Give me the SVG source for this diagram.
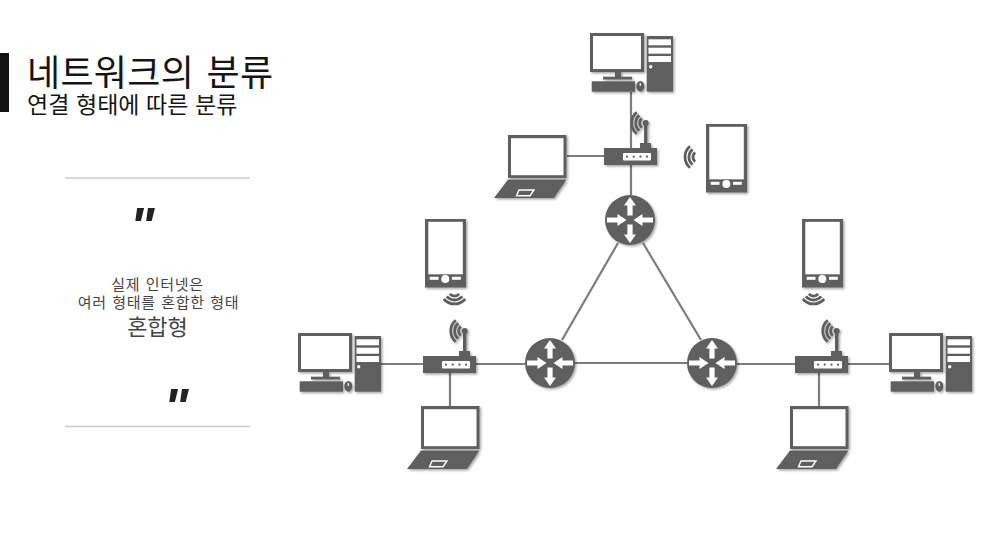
<svg xmlns="http://www.w3.org/2000/svg" width="988" height="537" viewBox="0 0 988 537">
<style>
.d{fill:#5e5e5e}
.w{fill:#fff}
.wave{fill:none;stroke:#5e5e5e;stroke-width:2.8}
.c{stroke:#7c7c7c;stroke-width:2.2;fill:none}
.rule{stroke:#ccc;stroke-width:1.3}
text{font-family:"Noto Sans CJK KR","Liberation Sans",sans-serif}
.t{fill:#151515}
.m{fill:#444;text-anchor:middle}
.q{font-family:"Liberation Sans",sans-serif;font-weight:700;font-style:italic;font-size:52px;fill:#222;text-anchor:middle}
</style>
<defs>
<filter id="sh" x="-15%" y="-15%" width="130%" height="130%">
<feGaussianBlur in="SourceGraphic" stdDeviation="0.55" result="b"/>
<feDropShadow in="b" dx="1.5" dy="1.5" stdDeviation="1.1" flood-color="#000" flood-opacity="0.35"/>
</filter>
<g id="arcs">
<path class="wave" d="M-9-10.7A14 14 0 0 0-9 10.7M-6.4-7.7A10 10 0 0 0-6.4 7.7M-3.9-4.6A6 6 0 0 0-3.9 4.6"/>
</g>
<g id="desktop" filter="url(#sh)">
<rect class="d" x="0" y="0" width="54" height="39"/>
<rect class="w" x="3" y="3" width="48" height="33"/>
<rect class="d" x="25" y="39" width="6" height="5"/>
<rect class="d" x="13" y="43.7" width="29" height="2.8"/>
<rect class="d" x="1.7" y="48.3" width="43.3" height="10.4"/>
<ellipse class="d" cx="50.3" cy="53.3" rx="4" ry="5.4"/>
<rect class="w" x="49.7" y="50" width="1.2" height="3"/>
<rect class="d" x="56.7" y="3" width="26.3" height="55.7"/>
<rect class="w" x="58.5" y="6.3" width="22.5" height="6"/>
<rect class="w" x="58.5" y="14.7" width="22.5" height="6"/>
<rect class="w" x="58.5" y="23" width="22.5" height="6"/>
<circle class="w" cx="60.7" cy="33.7" r="1.7"/>
</g>
<g id="laptop" filter="url(#sh)">
<rect class="d" x="0" y="0" width="58.5" height="43"/>
<rect class="w" x="3" y="3.2" width="52.5" height="37"/>
<path class="d" d="M0 44.5H58.5L46 63H-14Z"/>
<path d="M11 55H26L22 60.7H8.5Z" fill="none" stroke="#fff" stroke-width="1.4"/>
</g>
<g id="phone" filter="url(#sh)">
<rect class="d" x="0" y="0" width="41" height="68.5"/>
<rect class="w" x="3.3" y="2.8" width="34.5" height="52.5"/>
<rect class="w" x="4.7" y="57.8" width="8.8" height="3"/>
<rect class="w" x="27" y="57.8" width="8.8" height="3"/>
<circle class="w" cx="20.3" cy="60" r="4"/>
</g>
<g id="ap" filter="url(#sh)">
<rect class="d" x="0" y="0" width="53" height="17"/>
<rect class="w" x="19" y="5" width="28" height="7.5" rx="1"/>
<circle class="d" cx="23" cy="8.7" r="1.1"/>
<circle class="d" cx="29.7" cy="8.7" r="1.1"/>
<circle class="d" cx="36.5" cy="8.7" r="1.1"/>
<circle class="d" cx="43" cy="8.7" r="1.1"/>
<rect class="d" x="36" y="-5" width="11" height="5"/>
<rect class="d" x="40" y="-25" width="3.4" height="20"/>
<circle class="d" cx="41.7" cy="-25" r="3"/>
<use href="#arcs" x="41.7" y="-25"/>
</g>
<g id="hub" filter="url(#sh)">
<circle class="d" r="25"/>
<path class="w" d="M0-23L6-14.5H2.6V-4.5H-2.6V-14.5H-6Z"/>
<path class="w" d="M0 23L6 14.5H2.6V4.5H-2.6V14.5H-6Z"/>
<path class="w" d="M-3.5 0L-12.5-6V-2.6H-23V2.6H-12.5V6Z"/>
<path class="w" d="M3.5 0L12.5-6V-2.6H23V2.6H12.5V6Z"/>
</g>
</defs>
<rect width="988" height="537" fill="#fff"/>

<g id="connectors">
<path class="c" d="M631 92V195"/>
<path class="c" d="M567 156H604"/>
<path class="c" d="M618 243L562 340"/>
<path class="c" d="M643 243L701 340"/>
<path class="c" d="M381 364H423"/>
<path class="c" d="M476 364H525"/>
<path class="c" d="M575 363H687"/>
<path class="c" d="M737 364H795"/>
<path class="c" d="M848 364H889"/>
<path class="c" d="M450 372V406"/>
<path class="c" d="M819 372V406"/>
</g>

<g id="header">
<rect x="0" y="53" width="9" height="59" fill="#111"/>
<text class="t" x="27" y="86" font-size="36" letter-spacing="0.3" word-spacing="4">네트워크의 분류</text>
<text class="t" x="27" y="113" font-size="23" word-spacing="1.5">연결 형태에 따른 분류</text>
</g>
<g id="quote">
<line class="rule" x1="65" y1="178" x2="250" y2="178"/>
<line class="rule" x1="65" y1="426.5" x2="250" y2="426.5"/>
<text class="q" x="142" y="243.5">"</text>
<text class="m" x="157.5" y="290" font-size="15" letter-spacing="0.7" word-spacing="1.5">실제 인터넷은</text>
<text class="m" x="158.500" y="308" font-size="15" letter-spacing="0.7" word-spacing="1.5">여러 형태를 혼합한 형태</text>
<text class="m" x="157.5" y="334.5" font-size="22">혼합형</text>
<text class="q" x="176" y="424.5">"</text>
</g>

<g id="pc-top"><use href="#desktop" x="590" y="33"/></g>
<g id="laptop-top"><use href="#laptop" x="508" y="135"/></g>
<g id="ap-top"><use href="#ap" x="604" y="148"/></g>
<g id="phone-top"><use href="#phone" x="706" y="124"/><use href="#arcs" transform="translate(699 157)"/></g>
<g id="router-top"><use href="#hub" x="630" y="220"/></g>

<g id="pc-left"><use href="#desktop" x="298" y="333"/></g>
<g id="laptop-left"><use href="#laptop" x="421" y="406"/></g>
<g id="ap-left"><use href="#ap" x="423" y="356"/></g>
<g id="phone-left"><use href="#phone" x="425" y="219"/><use href="#arcs" transform="translate(454.5 290) rotate(-90)"/></g>
<g id="router-left"><use href="#hub" x="550" y="363"/></g>

<g id="pc-right"><use href="#desktop" x="889" y="333"/></g>
<g id="laptop-right"><use href="#laptop" x="790" y="406"/></g>
<g id="ap-right"><use href="#ap" x="795" y="356"/></g>
<g id="phone-right"><use href="#phone" x="802" y="219"/><use href="#arcs" transform="translate(813.5 290) rotate(-90)"/></g>
<g id="router-right"><use href="#hub" x="712" y="363"/></g>
</svg>
